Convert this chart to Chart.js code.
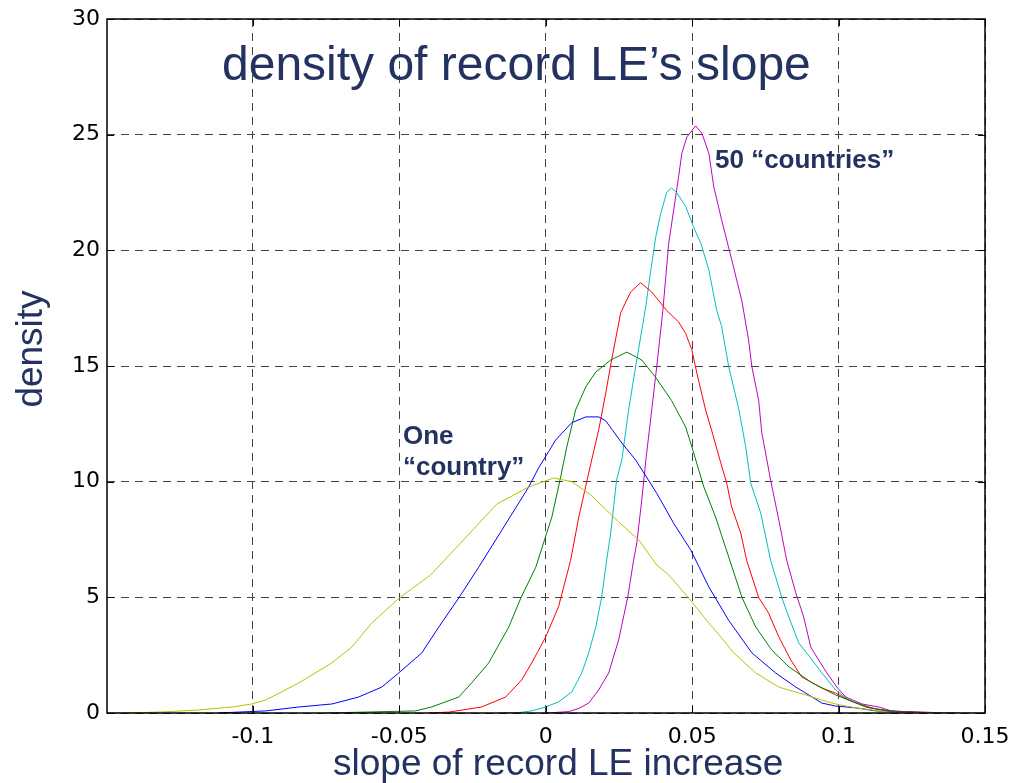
<!DOCTYPE html>
<html>
<head>
<meta charset="utf-8">
<script src="https://cdn.jsdelivr.net/npm/chart.js@4/dist/chart.umd.min.js"></script>
<style>
  body { margin: 0; background: #fff; }
  canvas { display: block; }
</style>
</head>
<body>
<canvas id="chart" width="1017" height="783"></canvas>
<script>
// tick labels
const xTicks = [-0.1, -0.05, 0, 0.05, 0.1, 0.15];
const yTicks = [0, 5, 10, 15, 20, 25, 30];

// one "country" (yellow)
const yellowX = [-0.1498, -0.14, -0.13, -0.1185, -0.107, -0.1004, -0.0956, -0.0843, -0.0731, -0.0662, -0.0594, -0.0502, -0.0393, -0.0297, -0.0167, -0.0058, 0.0027, 0.0089, 0.0154, 0.0249, 0.0318, 0.0379, 0.042, 0.0488, 0.0557, 0.0601, 0.0642, 0.0717, 0.0796, 0.0888, 0.0943, 0.099, 0.106, 0.117, 0.13, 0.15];
const yellowY = [0, 0.01, 0.05, 0.13, 0.26, 0.39, 0.56, 1.3, 2.16, 2.85, 3.89, 4.95, 5.97, 7.26, 9.03, 9.77, 10.16, 10.0, 9.43, 8.26, 7.48, 6.4, 5.97, 4.97, 3.89, 3.24, 2.6, 1.73, 1.12, 0.78, 0.56, 0.39, 0.22, 0.04, 0.01, 0];

// blue
const blueX = [-0.112, -0.0956, -0.0843, -0.073, -0.0639, -0.056, -0.0502, -0.0423, -0.0365, -0.0297, -0.0229, -0.015, -0.0058, -0.0024, 0.001, 0.0034, 0.0089, 0.0137, 0.0181, 0.0205, 0.026, 0.0307, 0.0379, 0.0437, 0.0495, 0.0557, 0.0625, 0.0704, 0.0785, 0.0854, 0.091, 0.0943, 0.099, 0.106, 0.1127, 0.123, 0.135];
const blueY = [0, 0.09, 0.26, 0.39, 0.69, 1.12, 1.73, 2.6, 3.72, 4.97, 6.3, 7.9, 9.77, 10.6, 11.3, 11.8, 12.55, 12.8, 12.8, 12.63, 11.67, 10.94, 9.5, 8.2, 7.05, 5.45, 4.0, 2.6, 1.73, 1.12, 0.69, 0.43, 0.3, 0.22, 0.09, 0.04, 0];

// green
const greenX = [-0.075, -0.0615, -0.0444, -0.039, -0.0297, -0.0253, -0.0195, -0.0126, -0.0085, -0.0034, 0.0021, 0.0051, 0.0072, 0.0102, 0.0137, 0.0171, 0.0222, 0.0277, 0.0328, 0.0376, 0.043, 0.0478, 0.0499, 0.054, 0.058, 0.0625, 0.067, 0.0717, 0.0772, 0.083, 0.091, 0.099, 0.106, 0.1127, 0.1216, 0.135];
const greenY = [0, 0.04, 0.09, 0.26, 0.69, 1.3, 2.16, 3.72, 4.97, 6.3, 8.47, 10.2, 11.5, 13.1, 14.1, 14.74, 15.26, 15.6, 15.26, 14.5, 13.5, 12.36, 11.5, 9.77, 8.47, 6.74, 5.0, 3.72, 2.72, 2.0, 1.3, 0.78, 0.43, 0.17, 0.04, 0];

// red
const redX = [-0.04, -0.033, -0.0219, -0.0137, -0.0082, -0.0048, -0.0024, 0, 0.0044, 0.0085, 0.0113, 0.0157, 0.0181, 0.0205, 0.0225, 0.0256, 0.029, 0.0324, 0.0362, 0.0413, 0.0454, 0.0478, 0.0499, 0.0516, 0.0546, 0.0567, 0.0598, 0.0618, 0.0635, 0.0666, 0.0686, 0.0727, 0.0761, 0.0796, 0.0837, 0.0874, 0.0943, 0.099, 0.1035, 0.1093, 0.117, 0.126, 0.14];
const redY = [0, 0.04, 0.26, 0.69, 1.43, 2.16, 2.72, 3.29, 4.6, 6.6, 8.47, 10.94, 12.24, 13.83, 15.26, 17.3, 18.2, 18.6, 18.2, 17.4, 16.9, 16.4, 15.7, 14.7, 13.1, 12.2, 10.8, 9.94, 8.9, 7.78, 6.6, 5.0, 4.32, 3.29, 2.29, 1.56, 1.08, 0.86, 0.56, 0.26, 0.09, 0.04, 0];

// cyan
const cyanX = [-0.016, -0.009, -0.0048, 0, 0.0044, 0.0089, 0.0123, 0.0147, 0.0171, 0.0191, 0.0208, 0.0222, 0.0242, 0.026, 0.0283, 0.0307, 0.0342, 0.0359, 0.0376, 0.0393, 0.0413, 0.043, 0.0447, 0.0478, 0.0505, 0.053, 0.0557, 0.0584, 0.0601, 0.0625, 0.066, 0.0683, 0.07, 0.0734, 0.0768, 0.0806, 0.083, 0.0864, 0.091, 0.0943, 0.099, 0.1035, 0.1103, 0.1195, 0.135];
const cyanY = [0, 0.02, 0.09, 0.26, 0.48, 0.91, 1.73, 2.6, 3.72, 5.0, 6.6, 7.78, 10.07, 10.94, 13.1, 14.96, 17.6, 19.15, 20.6, 21.6, 22.5, 22.7, 22.5, 21.9, 21.0, 20.3, 19.15, 17.4, 16.7, 14.96, 13.1, 11.5, 9.94, 8.65, 6.6, 5.0, 4.15, 3.03, 2.29, 1.73, 1.0, 0.56, 0.22, 0.04, 0];

// 50 "countries" (magenta)
const magentaX = [0.0003, 0.0079, 0.0113, 0.0147, 0.0181, 0.0215, 0.0249, 0.028, 0.03, 0.0311, 0.0328, 0.0342, 0.0362, 0.0379, 0.04, 0.041, 0.042, 0.0437, 0.0454, 0.0465, 0.0482, 0.0512, 0.0533, 0.0557, 0.0574, 0.0601, 0.0635, 0.067, 0.0693, 0.0704, 0.0727, 0.0738, 0.0768, 0.0796, 0.0823, 0.0854, 0.0881, 0.0905, 0.0932, 0.096, 0.0994, 0.1025, 0.108, 0.1137, 0.118, 0.126, 0.14];
const magentaY = [0, 0.06, 0.2, 0.43, 1.0, 1.73, 3.16, 5.0, 6.6, 7.35, 9.2, 10.94, 13.1, 14.96, 17.4, 18.85, 20.3, 21.75, 23.2, 24.2, 24.9, 25.38, 25.07, 24.2, 22.74, 21.3, 19.6, 17.8, 16.1, 14.96, 13.53, 12.1, 10.07, 8.34, 6.6, 5.19, 4.15, 2.85, 2.29, 1.73, 1.12, 0.69, 0.39, 0.26, 0.09, 0.04, 0];

const navy = '#233260';

function pts(xs, ys) {
  return xs.map((x, i) => ({ x: x, y: ys[i] }));
}

function line(data, color) {
  return {
    data: data,
    borderColor: color,
    borderWidth: 1,
    pointRadius: 0,
    tension: 0,
    fill: false
  };
}

// frame, inward ticks and the text on the figure
const decorations = {
  id: 'decorations',
  afterDraw(chart) {
    const ctx = chart.ctx;
    const a = chart.chartArea;
    const sx = chart.scales.x, sy = chart.scales.y;
    ctx.save();
    ctx.strokeStyle = '#000';
    ctx.lineWidth = 1.5;
    ctx.strokeRect(a.left, a.top, a.right - a.left, a.bottom - a.top);
    ctx.lineWidth = 1;
    ctx.beginPath();
    xTicks.forEach(v => {
      const px = Math.round(sx.getPixelForValue(v)) + 0.5;
      ctx.moveTo(px, a.bottom); ctx.lineTo(px, a.bottom - 7);
      ctx.moveTo(px, a.top); ctx.lineTo(px, a.top + 7);
    });
    yTicks.forEach(v => {
      const py = Math.round(sy.getPixelForValue(v)) + 0.5;
      ctx.moveTo(a.left, py); ctx.lineTo(a.left + 7, py);
      ctx.moveTo(a.right, py); ctx.lineTo(a.right - 7, py);
    });
    ctx.stroke();

    ctx.fillStyle = navy;
    ctx.textAlign = 'left';
    ctx.textBaseline = 'alphabetic';
    ctx.font = '48px "Liberation Sans", Arial, sans-serif';
    ctx.fillText('density of record LE\u2019s slope', 222, 80);
    ctx.font = '37px "Liberation Sans", Arial, sans-serif';
    ctx.fillText('slope of record LE increase', 333, 775);
    ctx.font = 'bold 26px "Liberation Sans", Arial, sans-serif';
    ctx.fillText('One', 403, 444);
    ctx.fillText('\u201ccountry\u201d', 403, 475);
    ctx.fillText('50 \u201ccountries\u201d', 715, 168);

    ctx.translate(32, 349);
    ctx.rotate(-Math.PI / 2);
    ctx.textAlign = 'center';
    ctx.textBaseline = 'middle';
    ctx.font = '37px "Liberation Sans", Arial, sans-serif';
    ctx.fillText('density', 0, 0);
    ctx.restore();
  }
};

const tickFont = { family: '"DejaVu Sans", sans-serif', size: 22 };

new Chart(document.getElementById('chart').getContext('2d'), {
  type: 'line',
  data: {
    datasets: [
      line(pts(yellowX, yellowY), '#bfbf00'),
      line(pts(blueX, blueY), '#0000ff'),
      line(pts(greenX, greenY), '#008000'),
      line(pts(redX, redY), '#ff0000'),
      line(pts(cyanX, cyanY), '#00bfbf'),
      line(pts(magentaX, magentaY), '#bf00bf')
    ]
  },
  options: {
    responsive: false,
    animation: false,
    layout: { padding: { top: 19, right: 32, left: 0, bottom: 0 } },
    plugins: {
      legend: { display: false },
      tooltip: { enabled: false }
    },
    scales: {
      x: {
        type: 'linear',
        min: -0.1498,
        max: 0.15,
        afterBuildTicks: s => { s.ticks = xTicks.map(v => ({ value: v })); },
        afterFit: s => { s.height = 70; s.paddingLeft = 0; s.paddingRight = 0; },
        ticks: {
          font: tickFont,
          color: '#000',
          padding: 11,
          maxRotation: 0,
          callback: v => String(v)
        },
        grid: { color: '#444', lineWidth: 1, drawTicks: false },
        border: { display: false, dash: [8, 6] }
      },
      y: {
        min: 0,
        max: 30,
        afterBuildTicks: s => { s.ticks = yTicks.map(v => ({ value: v })); },
        afterFit: s => { s.width = 107; s.paddingTop = 0; s.paddingBottom = 0; },
        ticks: {
          font: tickFont,
          color: '#000',
          padding: 7,
          callback: v => String(v)
        },
        grid: { color: '#444', lineWidth: 1, drawTicks: false },
        border: { display: false, dash: [8, 6] }
      }
    }
  },
  plugins: [decorations]
});
</script>
</body>
</html>
